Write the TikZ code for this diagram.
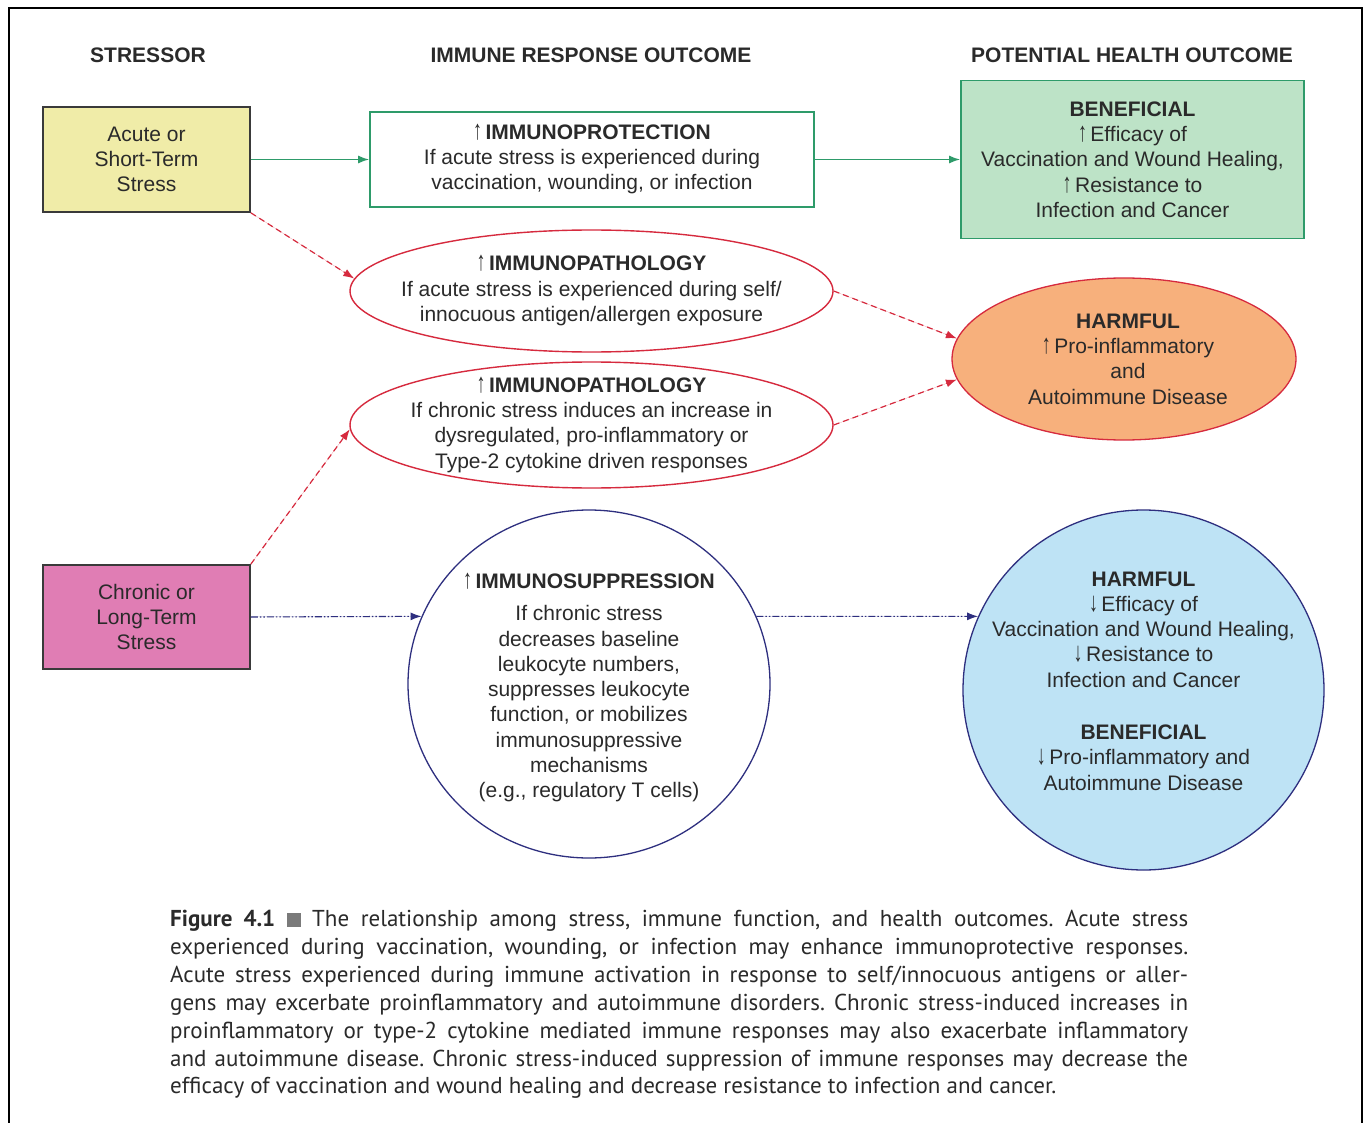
\documentclass[tikz,border=0pt]{standalone}
\usepackage{fontspec}
\usepackage{graphicx}
\setmainfont{Liberation Sans}
\newfontfamily\capfont{PT Sans}
\usetikzlibrary{shapes.geometric,arrows.meta}

\definecolor{ink}{HTML}{2A2A2A}
\definecolor{boxline}{HTML}{3A3A3A}
\definecolor{acutefill}{HTML}{F0ECA8}
\definecolor{protgreen}{HTML}{2E9B6A}
\definecolor{benefill}{HTML}{BDE3C7}
\definecolor{pathred}{HTML}{D62A3E}
\definecolor{harmfill}{HTML}{F7B07C}
\definecolor{chronfill}{HTML}{E07DB4}
\definecolor{supnavy}{HTML}{2E2F7F}
\definecolor{bluefill}{HTML}{BEE3F5}
\definecolor{sqgrey}{HTML}{7A7A7A}

% tall thin arrows used as "increase" / "decrease" marks
\newcommand{\incr}{\smash{\scalebox{0.85}[1.3]{\normalfont ↑}}\,}
\newcommand{\decr}{\smash{\scalebox{0.85}[1.3]{\normalfont ↓}}\,}
\newcommand{\capline}[1]{\hbox to 1018pt{#1}}

\begin{document}
\begin{tikzpicture}[x=1pt,y=-1pt,
  body/.style={font=\fontsize{21}{25.3}\selectfont, text=ink, align=center, inner sep=0pt},
  head/.style={font=\bfseries\fontsize{21}{25}\selectfont, text=ink, inner sep=0pt},
  stressbox/.style={draw=boxline, line width=1.6pt, minimum width=207pt, minimum height=105pt, inner sep=0pt},
  oval/.style={ellipse, inner sep=0pt},
  tip/.style={-{Latex[length=11pt,width=8pt]}},
  greenarrow/.style={tip, draw=protgreen, fill=protgreen, line width=1.6pt},
  redarrow/.style={tip, draw=pathred, fill=pathred, line width=1.2pt, dash pattern=on 6pt off 4pt},
  navyarrow/.style={tip, draw=supnavy, fill=supnavy, line width=1.1pt,
    dash pattern=on 7pt off 2pt on 1.5pt off 2pt on 1.5pt off 2pt},
]
\useasboundingbox (0,0) rectangle (1368,1123);
\fill[white] (0,0) rectangle (1368,1123);
% outer frame, open at the bottom
\draw[line width=2.6pt] (9,1123) -- (9,8) -- (1362,8) -- (1362,1123);

% column headings
\node[head] (hstress) at (148,55) {STRESSOR};
\node[head] (himmune) at (591,55) {IMMUNE RESPONSE OUTCOME};
\node[head] (hhealth) at (1132,55) {POTENTIAL HEALTH OUTCOME};

% stressors
\node[stressbox, fill=acutefill, body] (acute) at (146.5,159.5)
  {Acute or\\Short-Term\\Stress};
\node[stressbox, fill=chronfill, body, minimum height=104pt] (chronic) at (146.5,617)
  {Chronic or\\Long-Term\\Stress};

% immune response outcomes
\node[draw=protgreen, line width=1.6pt, fill=white, minimum width=444pt, minimum height=95pt, body] (prot) at (592,159.5)
  {\incr\textbf{IMMUNOPROTECTION}\\If acute stress is experienced during\\vaccination, wounding, or infection};

\node[oval, draw=pathred, line width=1.4pt, fill=white, minimum width=483pt, minimum height=122pt] (ep1) at (591.5,291) {};
\node[body] (ep1t) at (ep1) {\incr\textbf{IMMUNOPATHOLOGY}\\If acute stress is experienced during self/\\innocuous antigen/allergen exposure};

\node[oval, draw=pathred, line width=1.4pt, fill=white, minimum width=483pt, minimum height=126pt] (ep2) at (591.5,425) {};
\node[body] (ep2t) at (ep2) {\incr\textbf{IMMUNOPATHOLOGY}\\If chronic stress induces an increase in\\dysregulated, pro-inflammatory or\\Type-2 cytokine driven responses};

\node[oval, draw=supnavy, line width=1.3pt, fill=white, minimum width=362pt, minimum height=348pt] (circ) at (589,684) {};
\node[body] (circt) at (589,688) {\incr\textbf{IMMUNOSUPPRESSION}\\[7pt]If chronic stress\\decreases baseline\\leukocyte numbers,\\suppresses leukocyte\\function, or mobilizes\\immunosuppressive\\mechanisms\\(e.g., regulatory T cells)};

% potential health outcomes
\node[draw=protgreen, line width=1.6pt, fill=benefill, minimum width=343pt, minimum height=158pt, body] (bene) at (1132.5,159.5)
  {\textbf{BENEFICIAL}\\\incr Efficacy of\\Vaccination and Wound Healing,\\\incr Resistance to\\Infection and Cancer};

\node[oval, draw=pathred, line width=1.3pt, fill=harmfill, minimum width=344pt, minimum height=162pt] (harm) at (1124,359) {};
\node[body] (harmt) at (1128,359) {\textbf{HARMFUL}\\\incr Pro-inflammatory\\and\\Autoimmune Disease};

\node[oval, draw=supnavy, line width=1.3pt, fill=bluefill, minimum width=361pt, minimum height=360pt] (blue) at (1143.5,690) {};
\node[body] (bluet) at (1143.5,681) {\textbf{HARMFUL}\\\decr Efficacy of\\Vaccination and Wound Healing,\\\decr Resistance to\\Infection and Cancer\\[27pt]\textbf{BENEFICIAL}\\\decr Pro-inflammatory and\\Autoimmune Disease};

% connectors
\draw[greenarrow] (acute.east) -- (prot.west);
\draw[greenarrow] (prot.east) -- (bene.west);
\draw[redarrow] (acute.south east) -- (ep1.177);
\draw[redarrow] (ep1.east) -- (harm.173);
\draw[redarrow] (chronic.north east) -- (ep2.181);
\draw[redarrow] (ep2.east) -- (harm.187);
\draw[navyarrow] (chronic.east) -- (circ.158);
\draw[navyarrow] (circ.22) -- (blue.156);

% caption
\node[anchor=north west, inner sep=0pt, align=left, text=ink,
      font=\capfont\frenchspacing\fontsize{23}{27.9}\selectfont] (cap) at (170,910) {%
\capline{\textbf{Figure 4.1} {\color{sqgrey}\rule{0.6em}{0.6em}} The relationship among stress, immune function, and health outcomes. Acute stress}\\
\capline{experienced during vaccination, wounding, or infection may enhance immunoprotective responses.}\\
\capline{Acute stress experienced during immune activation in response to self/innocuous antigens or aller-}\\
\capline{gens may excerbate proinflammatory and autoimmune disorders. Chronic stress-induced increases in}\\
\capline{proinflammatory or type-2 cytokine mediated immune responses may also exacerbate inflammatory}\\
\capline{and autoimmune disease. Chronic stress-induced suppression of immune responses may decrease the}\\
efficacy of vaccination and wound healing and decrease resistance to infection and cancer.};
\end{tikzpicture}
\end{document}
